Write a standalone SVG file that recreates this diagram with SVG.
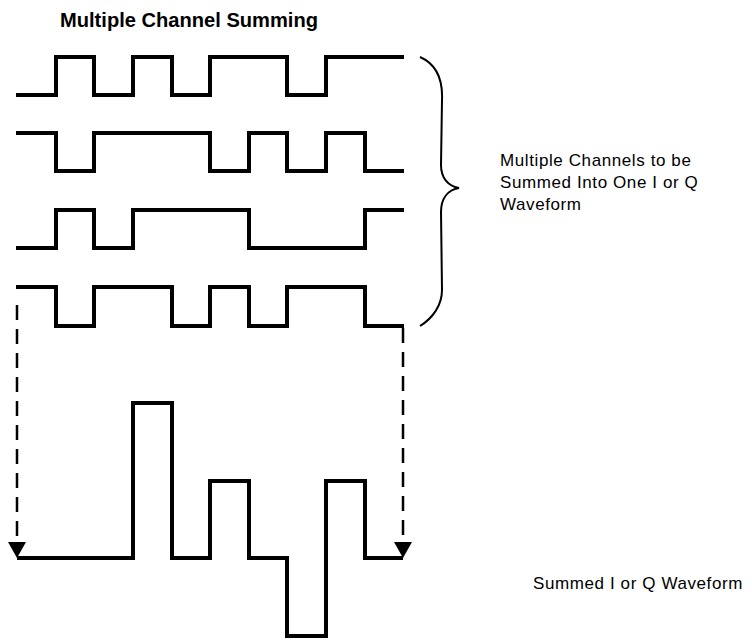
<svg xmlns="http://www.w3.org/2000/svg" width="752" height="640" viewBox="0 0 752 640">
<style>
.wave{fill:none;stroke:#000;stroke-width:4;stroke-linejoin:miter;stroke-linecap:butt}
.dash{fill:none;stroke:#000;stroke-width:2.5;stroke-dasharray:15 9}
.brace{fill:none;stroke:#000;stroke-width:2}
.title{font-family:"Liberation Sans",Arial,sans-serif;font-weight:bold;font-size:21px;fill:#000}
.label{font-family:"Liberation Sans",Arial,sans-serif;font-size:17px;letter-spacing:0.6px;fill:#000}
</style>
<rect width="752" height="640" fill="#fff"/>
<text class="title" x="60" y="27" textLength="258" lengthAdjust="spacingAndGlyphs">Multiple Channel Summing</text>
<g id="channel1"><path class="wave" d="M16,95 H56 V57 H94 V95 H133 V57 H172 V95 H210 V57 H287 V95 H326 V57 H404"/></g>
<g id="channel2"><path class="wave" d="M16,133 H56 V171 H94 V133 H210 V171 H249 V133 H287 V171 H326 V133 H365 V171 H404"/></g>
<g id="channel3"><path class="wave" d="M16,248 H56 V210 H94 V248 H133 V210 H249 V248 H365 V210 H404"/></g>
<g id="channel4"><path class="wave" d="M16,287 H56 V326 H94 V287 H172 V326 H210 V287 H249 V326 H287 V287 H365 V326 H404"/></g>
<g id="brace"><path class="brace" d="M420,57 C436,64 443,78 442,100 L441,165 C441,178 448,186 459,188 C448,190 441,198 441,212 L442,290 C442,305 433,318 420,326"/></g>
<g id="channels-label"><text class="label" x="500" y="166">Multiple Channels to be</text><text class="label" x="500" y="188">Summed Into One I or Q</text><text class="label" x="500" y="210">Waveform</text></g>
<g id="summed"><path class="wave" d="M17,558 H133 V403 H172 V558 H210 V481 H249 V558 H287 V636 H326 V481 H365 V558 H403"/></g>
<g id="summed-label"><text class="label" x="533" y="589">Summed I or Q Waveform</text></g>
<g id="connectors">
<path class="dash" d="M17,305 V543"/>
<path class="dash" d="M403,328 V543"/>
<polygon points="8,542 26,542 17,558" fill="#000"/>
<polygon points="394,542 412,542 403,558" fill="#000"/>
</g>
</svg>
